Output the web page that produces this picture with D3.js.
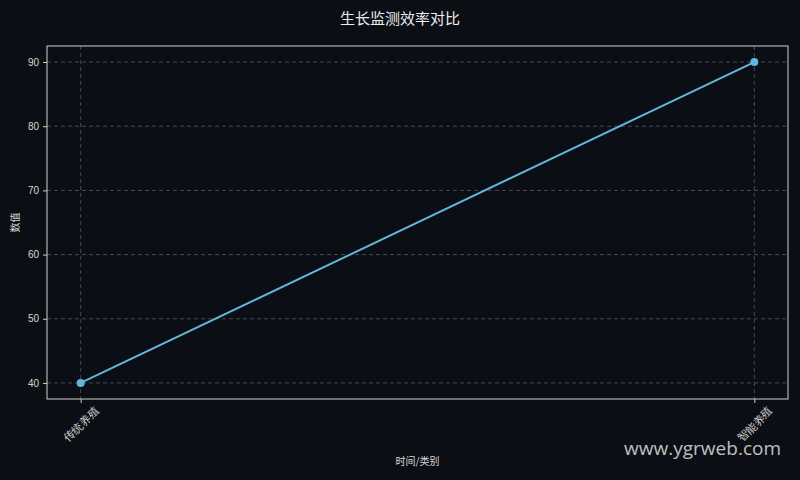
<!DOCTYPE html>
<html>
<head>
<meta charset="utf-8">
<script src="https://cdn.jsdelivr.net/npm/d3@7"></script>
<style>
  html, body { margin: 0; padding: 0; background: #0b0e14; }
  svg { display: block; font-family: "Noto Sans CJK SC", "DejaVu Sans", sans-serif; }
</style>
</head>
<body>
<div id="chart"></div>
<script>
// Chart values
const categories = ['传统养殖', '智能养殖'];
const values = [40, 90];
const yTicks = [40, 50, 60, 70, 80, 90];

const W = 800, H = 480;
const M = { top: 46, right: 12, bottom: 81, left: 47 };
const iw = W - M.left - M.right;
const ih = H - M.top - M.bottom;

const svg = d3.select('#chart').append('svg')
  .attr('width', W)
  .attr('height', H);

svg.append('rect').attr('width', W).attr('height', H).attr('fill', '#0b0e14');

const g = svg.append('g').attr('transform', `translate(${M.left},${M.top})`);

// point scale with 5% side margins
const x0 = iw * 0.05 / 1.1;
const x = d3.scalePoint().domain(categories).range([x0, iw - x0]).padding(0);

const y = d3.scaleLinear().domain([37.5, 92.5]).range([ih, 0]);

// grid
g.append('g')
  .selectAll('line')
  .data(yTicks)
  .join('line')
  .attr('x1', 0).attr('x2', iw)
  .attr('y1', d => y(d)).attr('y2', d => y(d))
  .attr('stroke', '#555a60').attr('stroke-width', 0.8)
  .attr('stroke-dasharray', '4,3');

g.append('g')
  .selectAll('line')
  .data(categories)
  .join('line')
  .attr('x1', d => x(d)).attr('x2', d => x(d))
  .attr('y1', 0).attr('y2', ih)
  .attr('stroke', '#555a60').attr('stroke-width', 0.8)
  .attr('stroke-dasharray', '4,3');

// axes
const yAxis = g.append('g')
  .call(d3.axisLeft(y).tickValues(yTicks).tickSize(4).tickPadding(4));
const xAxis = g.append('g')
  .attr('transform', `translate(0,${ih})`)
  .call(d3.axisBottom(x).tickSize(4).tickPadding(4));

[yAxis, xAxis].forEach(a => {
  a.select('.domain').remove();
  a.selectAll('line').attr('stroke', '#cccccc');
  a.selectAll('text').attr('fill', '#d8d8d8').attr('font-size', 10);
});

// rotated labels centred under each tick
xAxis.selectAll('text')
  .attr('font-size', 11)
  .attr('text-anchor', 'middle')
  .attr('y', 0).attr('dy', '0.35em')
  .attr('transform', 'translate(0,25) rotate(-45)');

// frame
g.append('rect')
  .attr('width', iw).attr('height', ih)
  .attr('fill', 'none')
  .attr('stroke', '#d0d0d0').attr('stroke-width', 1);

// line
const pts = categories.map((c, i) => ({ c, v: values[i] }));
g.append('path')
  .datum(pts)
  .attr('fill', 'none')
  .attr('stroke', '#62b6d9')
  .attr('stroke-width', 2)
  .attr('d', d3.line().x(d => x(d.c)).y(d => y(d.v)));

g.selectAll('circle.pt')
  .data(pts)
  .join('circle')
  .attr('cx', d => x(d.c)).attr('cy', d => y(d.v))
  .attr('r', 4)
  .attr('fill', '#62b6d9');

// titles
svg.append('text')
  .attr('x', W / 2).attr('y', 24)
  .attr('text-anchor', 'middle')
  .attr('fill', '#ececec')
  .attr('font-size', 15)
  .text('生长监测效率对比');

svg.append('text')
  .attr('x', M.left + iw / 2).attr('y', 465)
  .attr('text-anchor', 'middle')
  .attr('fill', '#d8d8d8')
  .attr('font-size', 10)
  .text('时间/类别');

svg.append('text')
  .attr('transform', `translate(19,${M.top + ih / 2}) rotate(-90)`)
  .attr('text-anchor', 'middle')
  .attr('fill', '#d8d8d8')
  .attr('font-size', 10)
  .text('数值');

// watermark
svg.append('text')
  .attr('x', 781).attr('y', 455)
  .attr('text-anchor', 'end')
  .attr('fill', '#e0e0e0')
  .attr('fill-opacity', 0.85)
  .attr('font-family', '"Open Sans", "DejaVu Sans", sans-serif')
  .attr('font-size', 19)
  .text('www.ygrweb.com');
</script>
</body>
</html>
